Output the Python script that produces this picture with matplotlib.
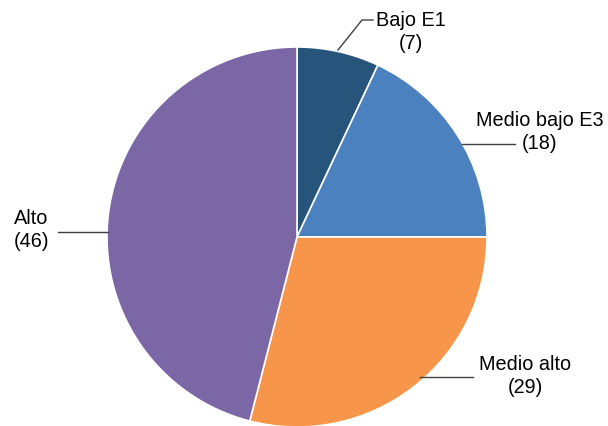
import matplotlib
matplotlib.use("Agg")
import matplotlib.pyplot as plt

categories = ["Bajo E1", "Medio bajo E3", "Medio alto", "Alto"]
values = [7, 18, 29, 46]
colors = ["#27547a", "#4b81bf", "#f7964a", "#7b67a6"]

plt.rcParams['font.family'] = ['Liberation Sans', 'DejaVu Sans']

W, H = 608, 426
fig = plt.figure(figsize=(W / 100, H / 100), dpi=100)
ax = fig.add_axes([0, 0, 1, 1])

cx, cy, r = 297, H - 237, 190
ax.pie(values, colors=colors, startangle=90, counterclock=False,
       center=(cx, cy), radius=r, frame=True,
       wedgeprops=dict(edgecolor='white', linewidth=1.2))
ax.set_xlim(0, W)
ax.set_ylim(0, H)
ax.set_aspect('equal')
ax.axis('off')

lc = '#404040'
fs = 14.3
ls = 1.22
# Bajo E1
ax.plot([338, 362, 373], [H - 50, H - 20, H - 20], color=lc, lw=1)
ax.text(411, H - 32, f"{categories[0]}\n({values[0]})", ha='center', va='center',
        multialignment='center', fontsize=fs, linespacing=ls)
# Medio bajo E3
ax.plot([462, 515], [H - 144, H - 144], color=lc, lw=1)
ax.text(540, H - 132, f"{categories[1]}\n({values[1]})", ha='center', va='center',
        multialignment='center', fontsize=fs, linespacing=ls)
# Medio alto
ax.plot([420, 473], [H - 377, H - 377], color=lc, lw=1)
ax.text(525, H - 376, f"{categories[2]}\n({values[2]})", ha='center', va='center',
        multialignment='center', fontsize=fs, linespacing=ls)
# Alto
ax.plot([58, 108], [H - 232, H - 232], color=lc, lw=1)
ax.text(14, H - 230, f"{categories[3]}\n({values[3]})", ha='left', va='center',
        multialignment='left', fontsize=fs, linespacing=ls)

fig.savefig("out.png", dpi=100)
